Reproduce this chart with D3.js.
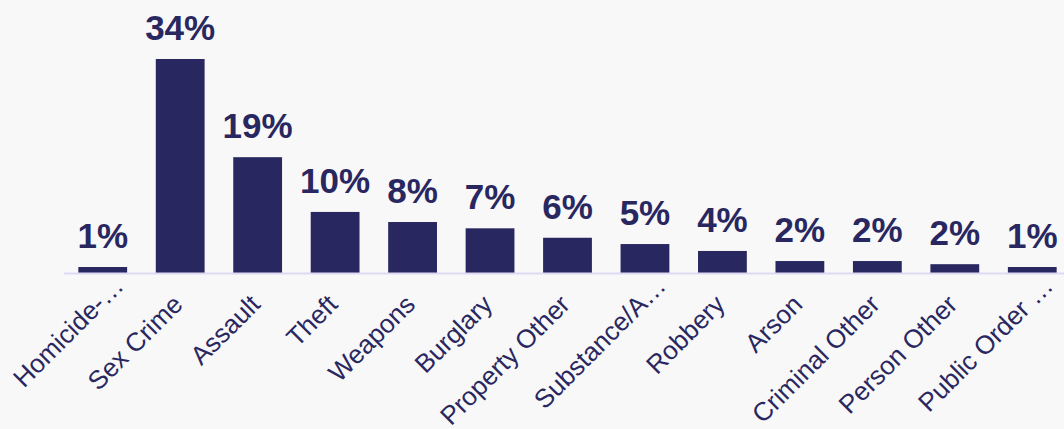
<!DOCTYPE html>
<html>
<head>
<meta charset="utf-8">
<script src="https://cdn.jsdelivr.net/npm/d3@7/dist/d3.min.js"></script>
<style>
  html, body { margin: 0; padding: 0; background: #f8f8f9; }
  svg { display: block; }
</style>
</head>
<body>
<svg id="chart" width="1064" height="429"></svg>
<script>
const categories = ["Homicide-…", "Sex Crime", "Assault", "Theft", "Weapons", "Burglary", "Property Other", "Substance/A…", "Robbery", "Arson", "Criminal Other", "Person Other", "Public Order …"];
const values = [0.95, 34.0, 18.4, 9.7, 8.1, 7.1, 5.6, 4.6, 3.5, 1.9, 1.9, 1.4, 0.95];
const valueLabels = ["1%", "34%", "19%", "10%", "8%", "7%", "6%", "5%", "4%", "2%", "2%", "2%", "1%"];

const W = 1064, H = 429;
const baseY = 273;
const topY = 59;
const color = "#29275f";
const svg = d3.select("#chart");

svg.append("rect").attr("width", W).attr("height", H).attr("fill", "#f8f8f9");

const x = d3.scaleBand().domain(categories).range([64, 1071]).paddingInner(0.37).paddingOuter(0.185);
const y = d3.scaleLinear().domain([0, 34]).range([baseY, topY]);

svg.append("g").selectAll("rect").data(values).join("rect")
  .attr("x", (d, i) => x(categories[i]))
  .attr("y", d => y(d))
  .attr("width", x.bandwidth())
  .attr("height", d => baseY - y(d))
  .attr("fill", color);

svg.append("line")
  .attr("x1", 64).attr("x2", W)
  .attr("y1", baseY + 0.5).attr("y2", baseY + 0.5)
  .attr("stroke", "#dcd9f2").attr("stroke-width", 2);

svg.append("g").selectAll("text").data(values).join("text")
  .attr("x", (d, i) => x(categories[i]) + x.bandwidth() / 2)
  .attr("y", d => y(d) - 19)
  .attr("text-anchor", "middle")
  .attr("font-family", "Liberation Sans, Arial, sans-serif")
  .attr("font-weight", "bold")
  .attr("font-size", 35)
  .attr("fill", color)
  .text((d, i) => valueLabels[i]);

svg.append("g").selectAll("text").data(categories).join("text")
  .attr("transform", d => `translate(${x(d) + x.bandwidth() / 2 + 4},${baseY + 33}) rotate(-45)`)
  .attr("text-anchor", "end")
  .attr("dx", d => d.endsWith("…") ? "1em" : 0)
  .attr("font-family", "Liberation Sans, Arial, sans-serif")
  .attr("font-size", 26)
  .attr("fill", color)
  .text(d => d);
</script>
</body>
</html>
